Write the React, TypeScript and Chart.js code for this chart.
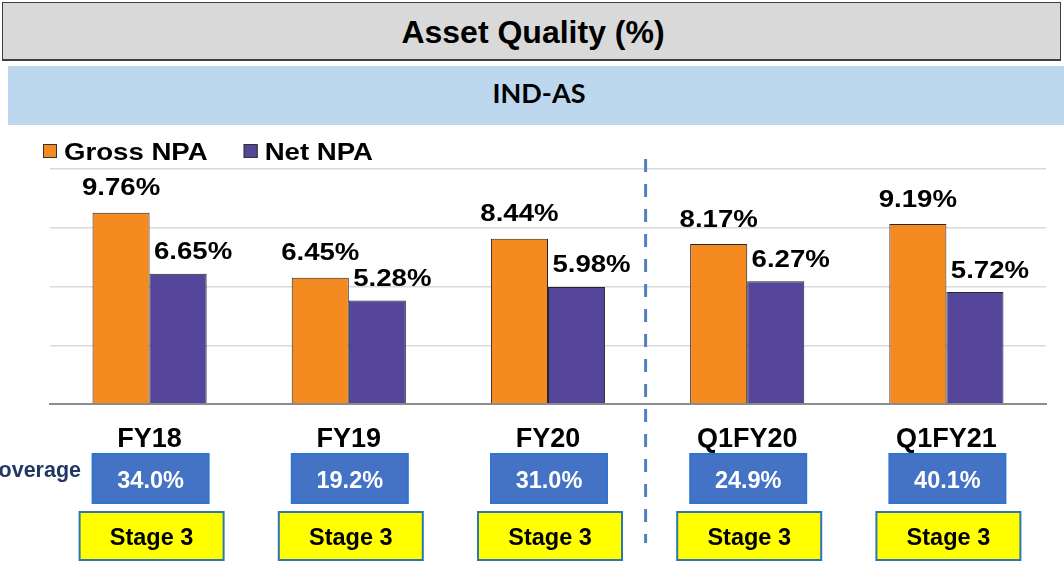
import React, { useEffect, useRef } from "react";
import { Chart, registerables } from "chart.js";

Chart.register(...registerables);

const titleText = "Asset Quality (%)";
const subtitleText = "IND-AS";
const categories = ["FY18", "FY19", "FY20", "Q1FY20", "Q1FY21"];
const seriesNames = ["Gross NPA", "Net NPA"];
const grossNPA = [9.76, 6.45, 8.44, 8.17, 9.19];
const netNPA = [6.65, 5.28, 5.98, 6.27, 5.72];
const coverage = [34.0, 19.2, 31.0, 24.9, 40.1];
const coverageLabel = "Coverage";
const stageLabels = ["Stage 3", "Stage 3", "Stage 3", "Stage 3", "Stage 3"];
const yMin = 0;
const yMax = 12;
const yStep = 3;

const FONT = '"Liberation Sans", Arial, Helvetica, sans-serif';
const ORANGE = "#F48A20";
const PURPLE = "#55469B";

function drawText(
  ctx: CanvasRenderingContext2D,
  text: string,
  x: number,
  cy: number,
  size: number,
  color: string,
  align: "left" | "center" | "right",
  sx = 1
) {
  ctx.save();
  ctx.font = `bold ${size}px ${FONT}`;
  ctx.fillStyle = color;
  ctx.textAlign = "left";
  ctx.textBaseline = "alphabetic";
  const w = ctx.measureText(text).width * sx;
  const left = align === "center" ? x - w / 2 : align === "right" ? x - w : x;
  ctx.translate(left, cy + 0.358 * size);
  ctx.scale(sx, 1);
  ctx.fillText(text, 0, 0);
  ctx.restore();
  return w;
}

const overlayPlugin = {
  id: "overlay",
  afterDatasetsDraw(chart: any) {
    const ctx: CanvasRenderingContext2D = chart.ctx;
    const xs = chart.scales.x;
    const area = chart.chartArea;

    // data labels
    chart.data.datasets.forEach((ds: any, di: number) => {
      const meta = chart.getDatasetMeta(di);
      meta.data.forEach((bar: any, i: number) => {
        const txt = Number(ds.data[i]).toFixed(2) + "%";
        if (di === 0) drawText(ctx, txt, bar.x, bar.y - 26, 24, "#000", "center", 1.15);
        else drawText(ctx, txt, bar.x + 15, bar.y - 23, 24, "#000", "center", 1.15);
      });
    });

    // category labels and boxes
    categories.forEach((c, i) => {
      const cx = xs.getPixelForValue(i);
      drawText(ctx, c, cx, area.bottom + 33, 27, "#000", "center");

      // coverage box
      ctx.save();
      ctx.fillStyle = "#4472C4";
      ctx.strokeStyle = "#2E75D0";
      ctx.lineWidth = 2;
      ctx.fillRect(cx + 1 - 58, area.bottom + 50, 116, 49);
      ctx.strokeRect(cx + 1 - 58, area.bottom + 50, 116, 49);
      ctx.restore();
      drawText(ctx, coverage[i].toFixed(1) + "%", cx + 1, area.bottom + 76, 23.5, "#fff", "center");

      // stage box
      ctx.save();
      ctx.fillStyle = "#FFFF00";
      ctx.strokeStyle = "#2E75B6";
      ctx.lineWidth = 2;
      ctx.fillRect(cx + 2 - 72, area.bottom + 108, 144, 48);
      ctx.strokeRect(cx + 2 - 72, area.bottom + 108, 144, 48);
      ctx.restore();
      drawText(ctx, stageLabels[i], cx + 2, area.bottom + 133, 23.5, "#000", "center");
    });

    // coverage row label (partly off-canvas on the left)
    drawText(ctx, coverageLabel, area.left + 31, area.bottom + 65, 21.5, "#203864", "right");

    // legend
    let lx = area.left - 7;
    const ly = area.top - 25;
    chart.data.datasets.forEach((ds: any) => {
      ctx.save();
      ctx.fillStyle = ds.backgroundColor;
      ctx.strokeStyle = "#333";
      ctx.lineWidth = 1;
      ctx.fillRect(lx, ly, 14, 14);
      ctx.strokeRect(lx + 0.5, ly + 0.5, 13, 13);
      ctx.restore();
      const w = drawText(ctx, ds.label, lx + 21, ly + 7, 24, "#000", "left", 1.15);
      lx = lx + 21 + w + 36;
    });

    // dashed separator
    const sepX = (xs.getPixelForValue(2) + xs.getPixelForValue(3)) / 2 - 2;
    ctx.save();
    ctx.strokeStyle = "#4F81BD";
    ctx.lineWidth = 3;
    ctx.setLineDash([13, 12]);
    ctx.beginPath();
    ctx.moveTo(sepX, area.top - 10);
    ctx.lineTo(sepX, area.bottom + 139);
    ctx.stroke();
    ctx.restore();
  },
};

export default function App() {
  const canvasRef = useRef<HTMLCanvasElement | null>(null);

  useEffect(() => {
    const canvas = canvasRef.current;
    if (!canvas) return;
    const chart = new Chart(canvas, {
      type: "bar",
      data: {
        labels: categories,
        datasets: [
          {
            label: seriesNames[0],
            data: grossNPA,
            backgroundColor: ORANGE,
            borderColor: "#262626",
            borderWidth: 1,
            categoryPercentage: 0.573,
            barPercentage: 1,
          },
          {
            label: seriesNames[1],
            data: netNPA,
            backgroundColor: PURPLE,
            borderColor: "#262626",
            borderWidth: 1,
            categoryPercentage: 0.573,
            barPercentage: 1,
          },
        ],
      },
      options: {
        responsive: false,
        animation: false,
        layout: { padding: { left: 50, right: 18, top: 169, bottom: 157 } },
        plugins: { legend: { display: false }, tooltip: { enabled: false } },
        scales: {
          x: {
            grid: { display: false, drawTicks: false },
            ticks: { display: false },
            border: { display: true, color: "#8C8C8C", width: 2 },
            afterFit: (s: any) => {
              s.height = 0;
            },
          },
          y: {
            min: yMin,
            max: yMax,
            ticks: { display: false, stepSize: yStep },
            grid: { color: "#D9D9D9", lineWidth: 1.5, drawTicks: false },
            border: { display: false },
            afterFit: (s: any) => {
              s.width = 0;
            },
          },
        },
      } as any,
      plugins: [overlayPlugin],
    });
    return () => chart.destroy();
  }, []);

  return (
    <div
      style={{
        position: "fixed",
        left: 0,
        top: 0,
        width: 1064,
        height: 561,
        background: "#fff",
        overflow: "hidden",
      }}
    >
      <div
        style={{
          position: "absolute",
          left: 2,
          top: 2,
          width: 1059,
          height: 59,
          boxSizing: "border-box",
          background: "#D9D9D9",
          border: "1.5px solid #3F3F3F",
          borderBottomWidth: 2.5,
        }}
      />
      <div
        style={{
          position: "absolute",
          left: 2,
          top: 14,
          width: 1062,
          height: 40,
          lineHeight: "40px",
          textAlign: "center",
          font: `bold 32px ${FONT}`,
          color: "#000",
          whiteSpace: "nowrap",
        }}
      >
        {titleText}
      </div>
      <div
        style={{
          position: "absolute",
          left: 8,
          top: 66,
          width: 1056,
          height: 59,
          background: "#BDD7EE",
        }}
      />
      <div
        style={{
          position: "absolute",
          left: 8,
          top: 76,
          width: 1062,
          height: 40,
          lineHeight: "40px",
          textAlign: "center",
          font: 'bold 27px Lato, "Open Sans", sans-serif',
          color: "#000",
          whiteSpace: "nowrap",
        }}
      >
        {subtitleText}
      </div>
      <canvas
        ref={canvasRef}
        width={1064}
        height={561}
        style={{ position: "absolute", left: 0, top: 0, width: 1064, height: 561 }}
      />
    </div>
  );
}
